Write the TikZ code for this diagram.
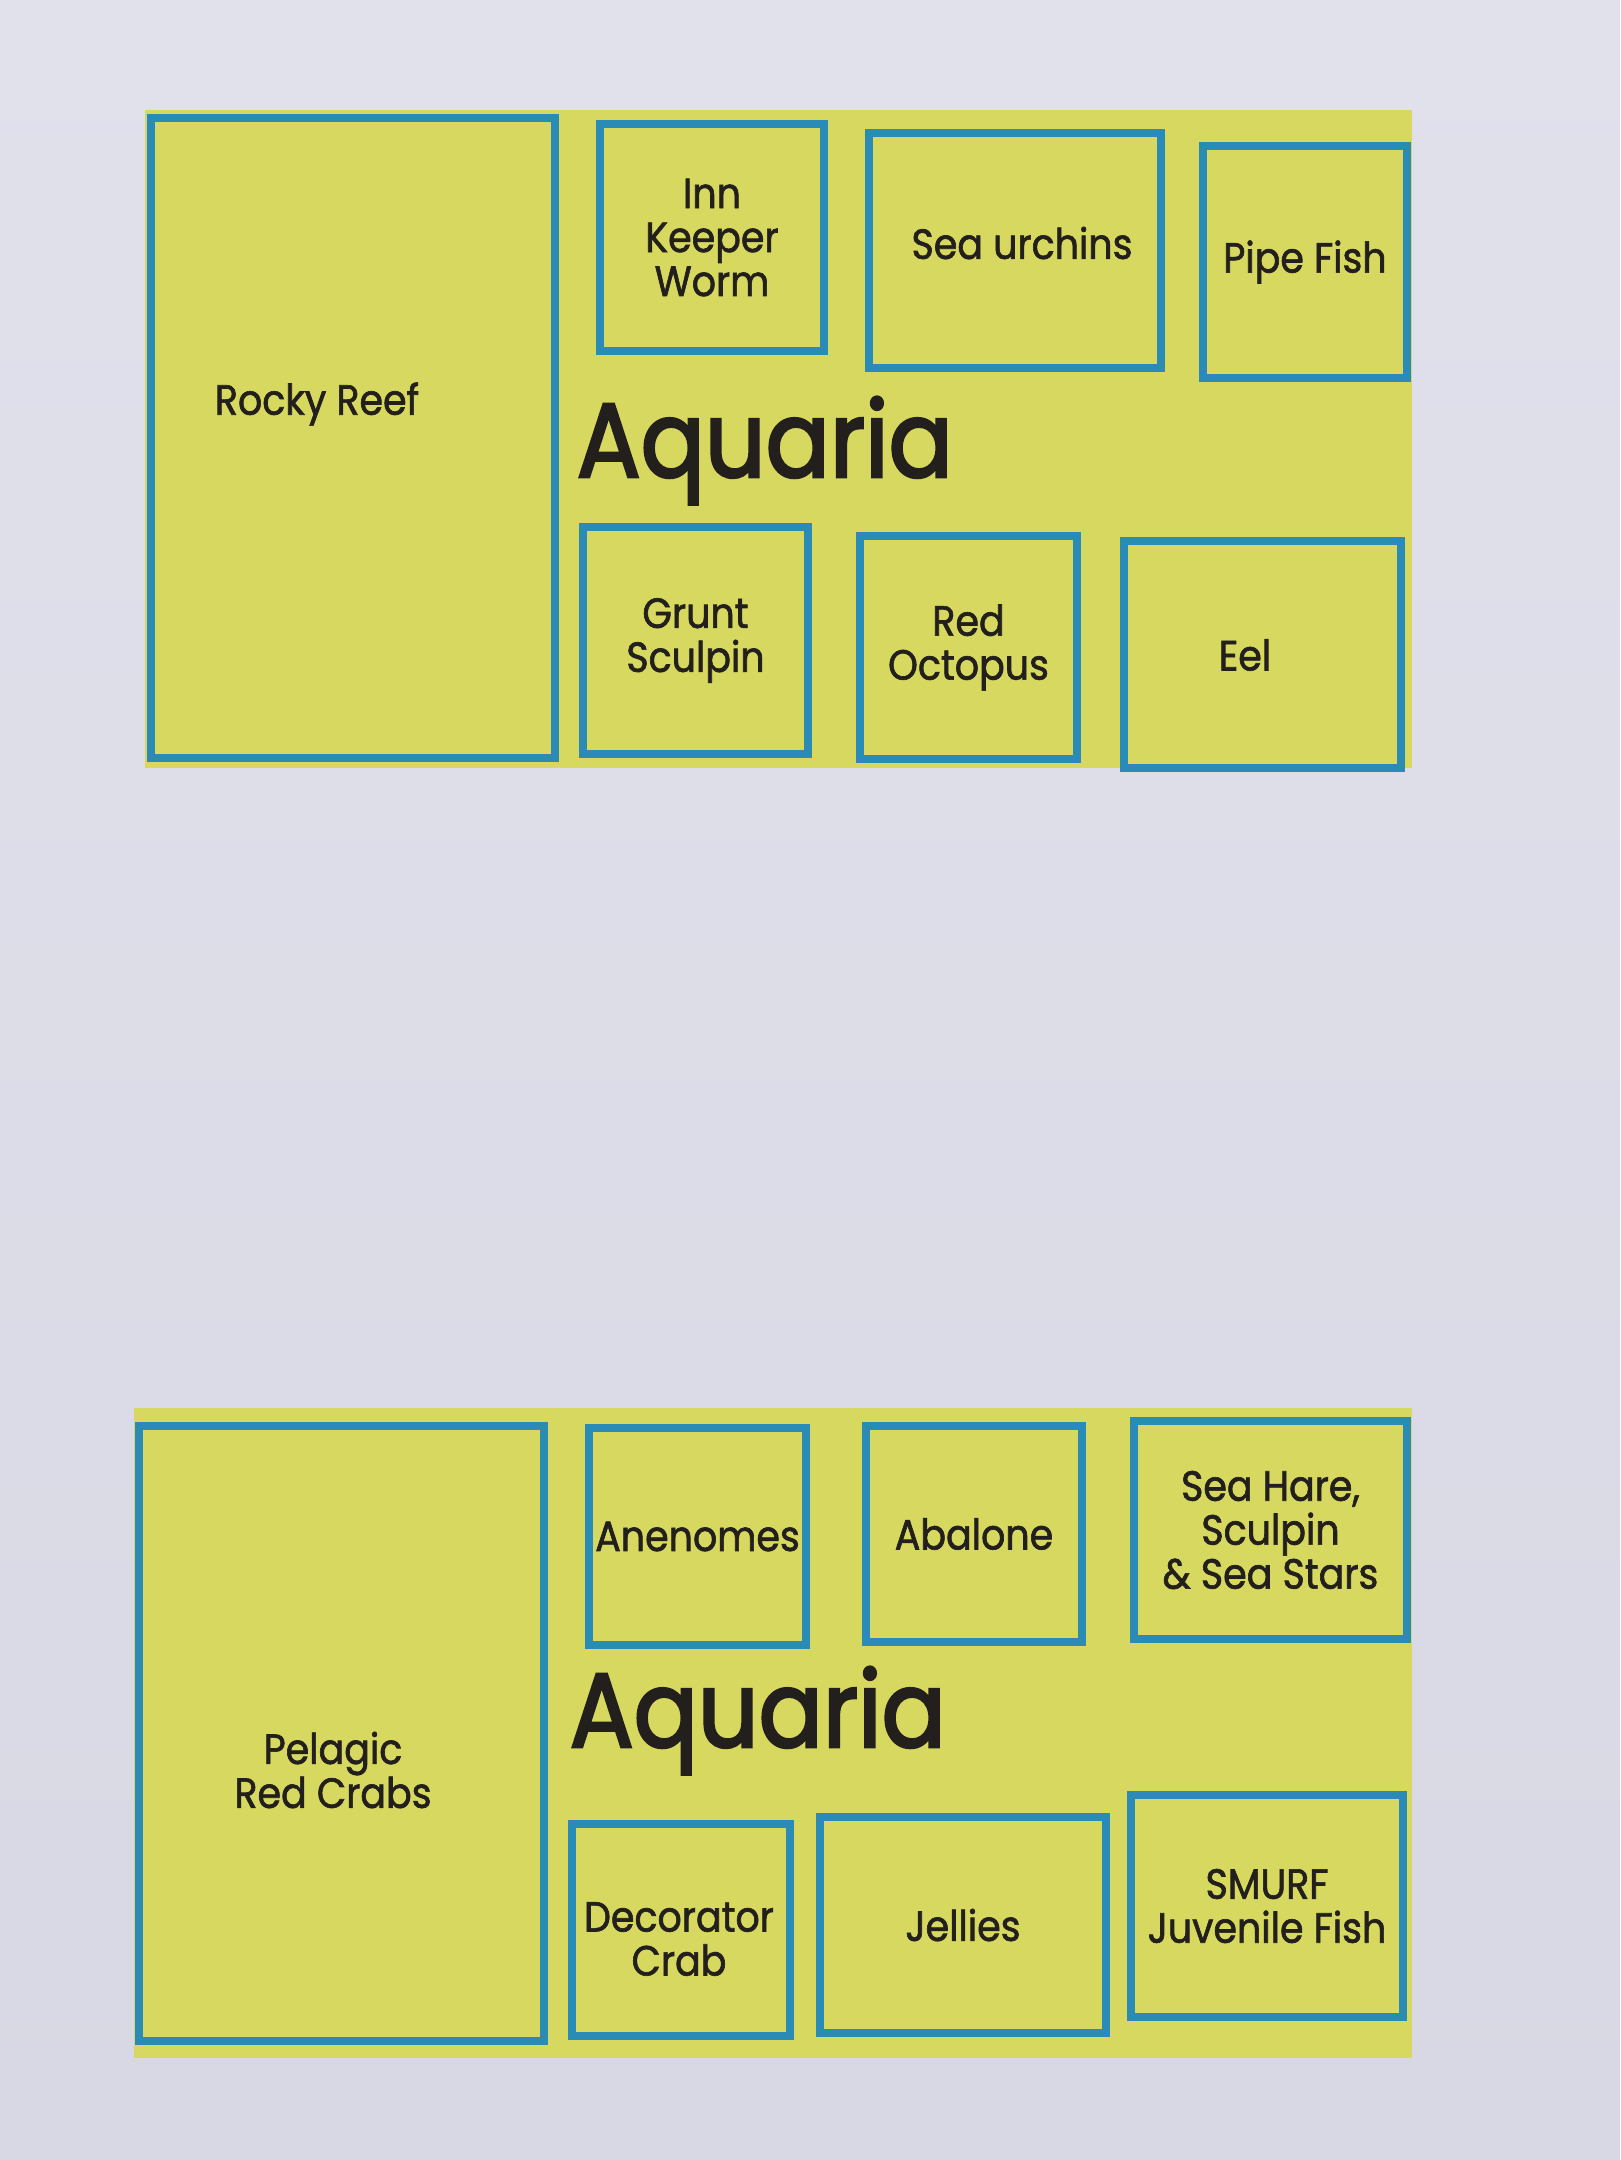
\documentclass[tikz,border=0pt]{standalone}
\usepackage{fontspec}
\setmainfont{Poppins}[FakeStretch=0.9, FakeBold=1.5]
\newfontfamily\aqtitlefont{Poppins}[FakeStretch=0.9, FakeBold=2.5]
\usetikzlibrary{fit}
\definecolor{aqbg}{HTML}{E0E1EB}
\definecolor{aqbg2}{HTML}{D7D8E3}
\definecolor{aqyellow}{HTML}{D6D85F}
\definecolor{aqblue}{HTML}{2A8CB6}
\definecolor{aqtext}{HTML}{231F1C}
\newcommand\tankbox[6]{%
  \node[tank, minimum width={(#4-#2)*0.01cm}, minimum height={(#5-#3)*0.01cm}]
    (#1) at ({(#2+#4)/2},{(#3+#5)/2}) {#6};}
\begin{document}
\begin{tikzpicture}[x=0.01cm,y=-0.01cm,
  panel/.style={fill=aqyellow, draw=none, inner sep=0pt},
  tank/.style={draw=aqblue, line width=2.3pt, fill=aqyellow, inner sep=0pt, align=center, text=aqtext, font=\fontsize{12}{12.5}\selectfont},
  lbl/.style={align=center, text=aqtext, font=\fontsize{12}{12.5}\selectfont, inner sep=0pt},
  aqtitle/.style={text=aqtext, font=\aqtitlefont\fontsize{30}{30}\selectfont, inner sep=0pt, anchor=base west}]
\fill[top color=aqbg, bottom color=aqbg2] (0,0) rectangle (1620,2160);
\useasboundingbox (0,0) rectangle (1620,2160);

% ---------- top panel ----------
\node[panel, fit={(145,110) (1412,768)}] (p1) {};
\tankbox{rocky}{151}{118}{555}{758}{}
\node[lbl] (rockyt) at (317,404) {Rocky Reef};
\tankbox{inn}{600}{124}{824}{351}{Inn\\Keeper\\Worm}
\tankbox{urch}{869}{133}{1161}{368}{}
\node[lbl] (urcht) at (1022,243) {Sea urchins};
\tankbox{pipe}{1203}{146}{1407}{378}{Pipe Fish}
\node[aqtitle] (aq1) at (576,477) {Aquaria};
\tankbox{grunt}{583}{527}{808}{754}{Grunt\\Sculpin}
\tankbox{octo}{860}{536}{1077}{759}{Red\\Octopus}
\tankbox{eel}{1124}{541}{1401}{768}{}
\node[lbl] (eelt) at (1245,655) {Eel};

% ---------- bottom panel ----------
\node[panel, fit={(134,1408) (1412,2058)}] (p2) {};
\tankbox{pelagic}{139}{1426}{544}{2041}{}
\node[lbl] (pelagict) at (333,1770) {Pelagic\\Red Crabs};
\tankbox{anem}{589}{1428}{806}{1645}{Anenomes}
\tankbox{abal}{866}{1426}{1082}{1642}{Abalone}
\tankbox{hare}{1134}{1421}{1407}{1639}{Sea Hare,\\Sculpin\\\& Sea Stars}
\node[aqtitle] (aq2) at (569,1747) {Aquaria};
\tankbox{deco}{572}{1824}{790}{2036}{}
\node[lbl] (decot) at (679,1939) {Decorator\\Crab};
\tankbox{jell}{820}{1817}{1106}{2033}{Jellies}
\tankbox{smurf}{1131}{1795}{1403}{2017}{SMURF\\Juvenile Fish}
\end{tikzpicture}
\end{document}
